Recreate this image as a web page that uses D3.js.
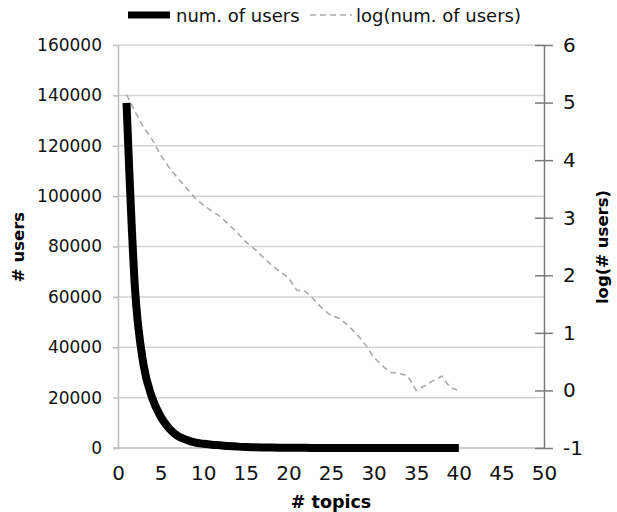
<!DOCTYPE html>
<html>
<head>
<meta charset="utf-8">
<script src="https://cdn.jsdelivr.net/npm/d3@7/dist/d3.min.js"></script>
<style>
  html, body { margin: 0; padding: 0; background: #fff; }
  svg { display: block; font-family: "DejaVu Sans", Verdana, sans-serif; }
</style>
</head>
<body>
<svg id="chart" width="617" height="512"></svg>
<script>
// ---- data ----
const topics = d3.range(1, 41);
const users = [137000, 63000, 33000, 20000, 12500, 7800, 4800, 3300, 2200, 1660,
               1320, 1050, 760, 550, 380, 290, 210, 150, 115, 90,
               55, 52, 38, 26, 20, 18, 13, 10, 6, 4,
               3, 2, 2, 2, 1, 1, 1, 2, 1, 1];
const logUsers = [5.14, 4.84, 4.57, 4.36, 4.09, 3.87, 3.69, 3.52, 3.35, 3.22,
                  3.12, 3.02, 2.88, 2.74, 2.58, 2.46, 2.32, 2.18, 2.06, 1.96,
                  1.74, 1.72, 1.58, 1.42, 1.30, 1.25, 1.13, 0.98, 0.80, 0.58,
                  0.43, 0.31, 0.30, 0.25, 0.00, 0.08, 0.17, 0.25, 0.05, 0.00];
const xTicks = [0, 5, 10, 15, 20, 25, 30, 35, 40, 45, 50];
const leftTicks = [0, 20000, 40000, 60000, 80000, 100000, 120000, 140000, 160000];
const rightTicks = [-1, 0, 1, 2, 3, 4, 5, 6];
const seriesNames = ["num. of users", "log(num. of users)"];

// ---- layout ----
const L = 118, R = 544, T = 45, B = 448;
const svg = d3.select("#chart");
const x = d3.scaleLinear().domain([0, 50]).range([L, R]);
const yL = d3.scaleLinear().domain([0, 160000]).range([B, T]);
const yR = d3.scaleLinear().domain([-1, 6]).range([B, T]);

// gridlines
svg.append("g").selectAll("line").data(leftTicks.filter(d => d > 0)).join("line")
  .attr("x1", L).attr("x2", R).attr("y1", d => yL(d)).attr("y2", d => yL(d))
  .attr("stroke", "#d4d4d4").attr("stroke-width", 1.5);

// left axis
const gL = svg.append("g").attr("transform", `translate(${L},0)`)
  .call(d3.axisLeft(yL).tickValues(leftTicks).tickFormat(d3.format("d")).tickSize(5).tickSizeOuter(0).tickPadding(11));
gL.select(".domain").attr("stroke", "#bdbdbd").attr("stroke-width", 1.5);
gL.selectAll(".tick line").attr("stroke", "#bdbdbd").attr("stroke-width", 1.5);
gL.selectAll("text").attr("font-size", 17).attr("fill", "#111").attr("font-family", "DejaVu Sans");

// bottom line
svg.append("line").attr("x1", L - 5).attr("x2", R).attr("y1", B).attr("y2", B)
  .attr("stroke", "#bdbdbd").attr("stroke-width", 1.5);

// bottom axis labels
const gB = svg.append("g").attr("transform", `translate(0,${B})`)
  .call(d3.axisBottom(x).tickValues(xTicks).tickSize(0).tickPadding(18));
gB.select(".domain").remove();
gB.selectAll("text").attr("font-size", 20).attr("fill", "#111").attr("font-family", "DejaVu Sans");

// right axis
const gR = svg.append("g").attr("transform", `translate(${R},0)`)
  .call(d3.axisRight(yR).tickValues(rightTicks).tickFormat(d => String(d)).tickSize(9).tickSizeOuter(0).tickPadding(10));
gR.select(".domain").attr("stroke", "#7a7a7a").attr("stroke-width", 1.5);
gR.selectAll(".tick line").attr("x1", -9).attr("stroke", "#7a7a7a").attr("stroke-width", 1.5);
gR.selectAll("text").attr("font-size", 20).attr("fill", "#111").attr("font-family", "DejaVu Sans");

// dashed log line
const lineR = d3.line().x((d, i) => x(topics[i])).y(d => yR(d));
svg.append("path").datum(logUsers).attr("d", lineR)
  .attr("fill", "none").attr("stroke", "#aaaaaa").attr("stroke-width", 1.6)
  .attr("stroke-dasharray", "6,4");

// thick users line
const lineL = d3.line().x((d, i) => x(topics[i])).y(d => yL(d)).curve(d3.curveMonotoneX);
svg.append("path").datum(users).attr("d", lineL)
  .attr("fill", "none").attr("stroke", "#000").attr("stroke-width", 8)
  .attr("stroke-linejoin", "round");

// axis titles
svg.append("text").attr("x", (L + R) / 2).attr("y", 508).attr("text-anchor", "middle")
  .attr("font-weight", "bold").attr("font-size", 17.5).text("# topics");
svg.append("text").attr("transform", "translate(24,247) rotate(-90)").attr("text-anchor", "middle")
  .attr("font-weight", "bold").attr("font-size", 16.5).text("# users");
svg.append("text").attr("transform", "translate(608,247) rotate(-90)").attr("text-anchor", "middle")
  .attr("font-weight", "bold").attr("font-size", 16.5).text("log(# users)");

// legend
const lg = svg.append("g");
lg.append("line").attr("x1", 128).attr("x2", 170).attr("y1", 15).attr("y2", 15)
  .attr("stroke", "#000").attr("stroke-width", 7);
lg.append("text").attr("x", 176).attr("y", 22).attr("font-size", 18).attr("fill", "#111").text(seriesNames[0]);
lg.append("line").attr("x1", 310).attr("x2", 352).attr("y1", 15).attr("y2", 15)
  .attr("stroke", "#aaaaaa").attr("stroke-width", 1.6).attr("stroke-dasharray", "6,4");
lg.append("text").attr("x", 356).attr("y", 22).attr("font-size", 18).attr("fill", "#111").text(seriesNames[1]);
</script>
</body>
</html>
